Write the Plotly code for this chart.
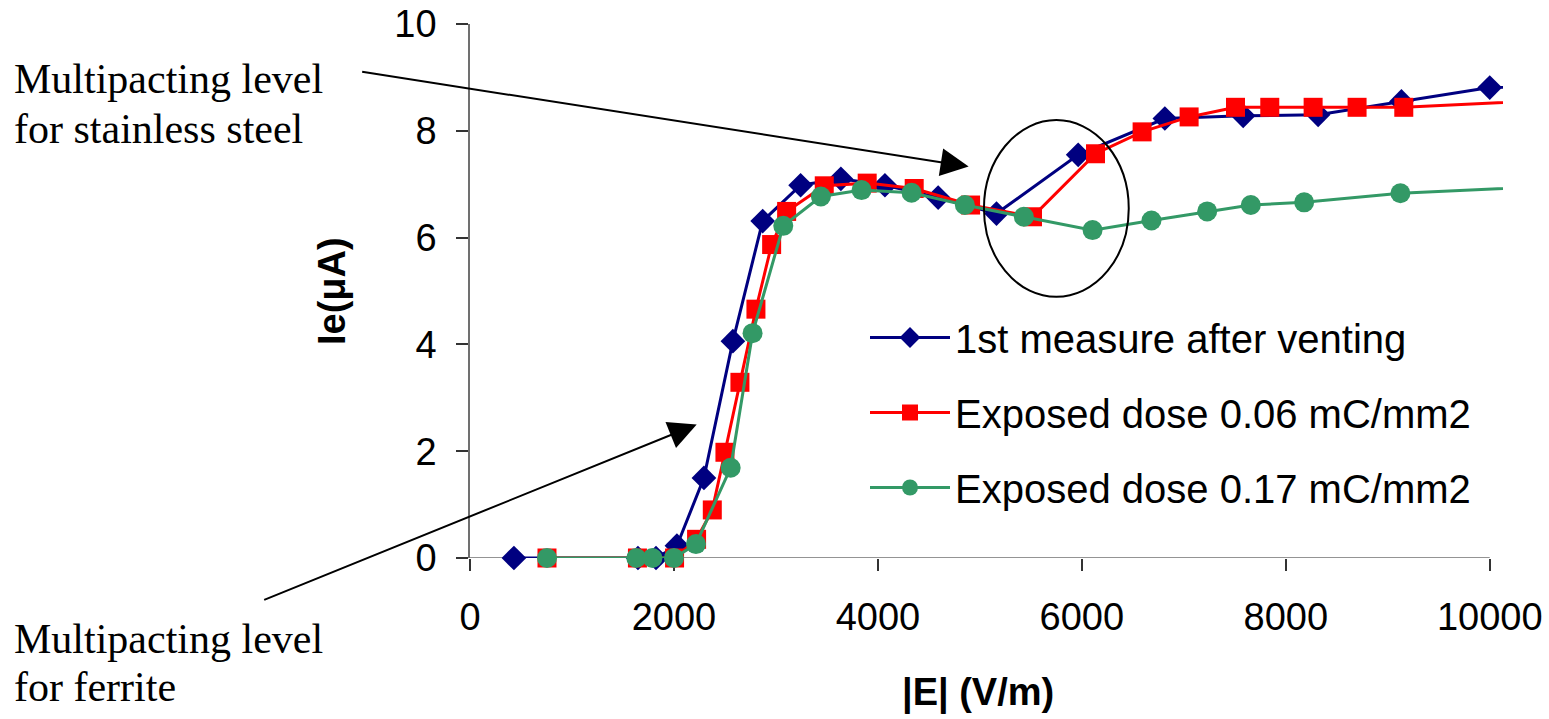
import plotly.graph_objects as go

# ---- data ----
blue_x = [431, 1647, 1824, 2029, 2294, 2578, 2870, 3242, 3637, 4069, 4591, 5163, 5964, 6814, 7582, 8317, 9134, 10000, 12000]
blue_y = [0.0, 0.0, 0.0, 0.23, 1.50, 4.06, 6.31, 6.98, 7.10, 6.98, 6.75, 6.45, 7.55, 8.23, 8.28, 8.30, 8.55, 8.81, 8.90]

red_x = [755, 1642, 2006, 2222, 2376, 2500, 2647, 2804, 2958, 3105, 3474, 3895, 4356, 4909, 5516, 6134, 6591, 7052, 7507, 7843, 8268, 8699, 9157, 12000]
red_y = [0.0, 0.0, 0.0, 0.35, 0.90, 1.98, 3.29, 4.66, 5.87, 6.49, 6.97, 7.02, 6.92, 6.61, 6.39, 7.57, 7.98, 8.26, 8.44, 8.44, 8.44, 8.44, 8.44, 8.70]

green_x = [755, 1631, 1789, 2000, 2216, 2556, 2771, 3072, 3441, 3840, 4330, 4853, 5431, 6105, 6683, 7229, 7657, 8180, 9124, 12000]
green_y = [0.0, 0.0, 0.0, 0.0, 0.26, 1.69, 4.21, 6.22, 6.77, 6.89, 6.84, 6.61, 6.39, 6.14, 6.32, 6.49, 6.61, 6.66, 6.83, 7.08]

names = ["1st measure after venting", "Exposed dose 0.06 mC/mm2", "Exposed dose 0.17 mC/mm2"]
x_ticks = [0, 2000, 4000, 6000, 8000, 10000]
y_ticks = [0, 2, 4, 6, 8, 10]

SANS = "Arial, Liberation Sans, sans-serif"
SERIF = "Times New Roman, Liberation Serif, serif"

fig = go.Figure()
fig.add_trace(go.Scatter(x=blue_x, y=blue_y, name=names[0], mode="lines+markers",
                         line=dict(color="#000080", width=3),
                         marker=dict(symbol="diamond", size=19, color="#000080"),
                         cliponaxis=False, legendgroup="a"))
fig.add_trace(go.Scatter(x=red_x, y=red_y, name=names[1], mode="lines+markers",
                         line=dict(color="#FF0000", width=3),
                         marker=dict(symbol="square", size=19, color="#FF0000"),
                         cliponaxis=False, legendgroup="b"))
fig.add_trace(go.Scatter(x=green_x, y=green_y, name=names[2], mode="lines+markers",
                         line=dict(color="#339966", width=3),
                         marker=dict(symbol="circle", size=20, color="#339966"),
                         cliponaxis=False, legendgroup="c"))

W, H = 1549, 719
L, R, T, B = 470, 46, 24, 161
pw, ph = W - L - R, H - T - B

def px(xp):
    return (xp - L) / pw

def py(yp):
    return (H - B - yp) / ph

fig.update_layout(
    width=W, height=H,
    margin=dict(l=L, r=R, t=T, b=B, autoexpand=False),
    paper_bgcolor="white", plot_bgcolor="white",
    font=dict(family=SANS, color="black"),
    showlegend=True,
    legend=dict(x=px(865), y=py(305), xanchor="left", yanchor="top",
                font=dict(family=SANS, size=40, color="black"),
                bgcolor="rgba(0,0,0,0)", itemwidth=80,
                traceorder="grouped", tracegroupgap=20),
    xaxis=dict(range=[0, 10130], tickvals=x_ticks, ticktext=[str(v) for v in x_ticks],
               showgrid=False, zeroline=False, showline=False, automargin=False,
               ticks="outside", ticklen=12, tickwidth=1.5, tickcolor="#333",
               tickfont=dict(family=SANS, size=38, color="black"),
               ticklabelstandoff=13, layer="below traces"),
    yaxis=dict(range=[0, 10], tickvals=y_ticks, ticktext=[str(v) for v in y_ticks],
               showgrid=False, zeroline=False, showline=True, linecolor="#707070", linewidth=1.5,
               automargin=False,
               ticks="outside", ticklen=12, tickwidth=1.5, tickcolor="#333",
               tickfont=dict(family=SANS, size=38, color="black"),
               ticklabelstandoff=12, layer="below traces"),
)

# x axis line (ends at the 10000 tick like the reference)
fig.add_shape(type="line", xref="x", yref="y", x0=0, x1=x_ticks[-1], y0=0, y1=0,
              line=dict(color="#707070", width=1.5), layer="below")

# ellipse around the stainless-steel multipacting region
fig.add_shape(type="circle", xref="x", yref="y", x0=5040, x1=6460, y0=4.89, y1=8.20,
              line=dict(color="black", width=2), layer="above")

# axis titles
fig.add_annotation(text="<b>|E| (V/m)</b>", xref="paper", yref="paper", x=px(978), y=py(692),
                   xanchor="center", yanchor="middle",
                   showarrow=False, font=dict(family=SANS, size=38, color="black"))
fig.add_annotation(text="<b>Ie(μA)</b>", xref="paper", yref="paper", x=px(332), y=py(291),
                   xanchor="center", yanchor="middle",
                   showarrow=False, textangle=-90, font=dict(family=SANS, size=38, color="black"))

# text labels
for txt, yc in [("Multipacting level", 79), ("for stainless steel", 129),
                ("Multipacting level", 639), ("for ferrite", 687)]:
    fig.add_annotation(text=txt, xref="paper", yref="paper", x=px(12), y=py(yc),
                       xanchor="left", yanchor="middle", showarrow=False,
                       font=dict(family=SERIF, size=42, color="black"))

# arrows
fig.add_annotation(text="", xref="x", yref="y", x=4890, y=7.33, ax=360 - 968, ay=72 - 167,
                   showarrow=True, arrowhead=2, arrowsize=2.8, arrowwidth=2, arrowcolor="black")
fig.add_annotation(text="", xref="x", yref="y", x=2223, y=2.50, ax=263 - 697, ay=600 - 424,
                   showarrow=True, arrowhead=2, arrowsize=2.8, arrowwidth=2, arrowcolor="black")

fig.write_html("out.html")
